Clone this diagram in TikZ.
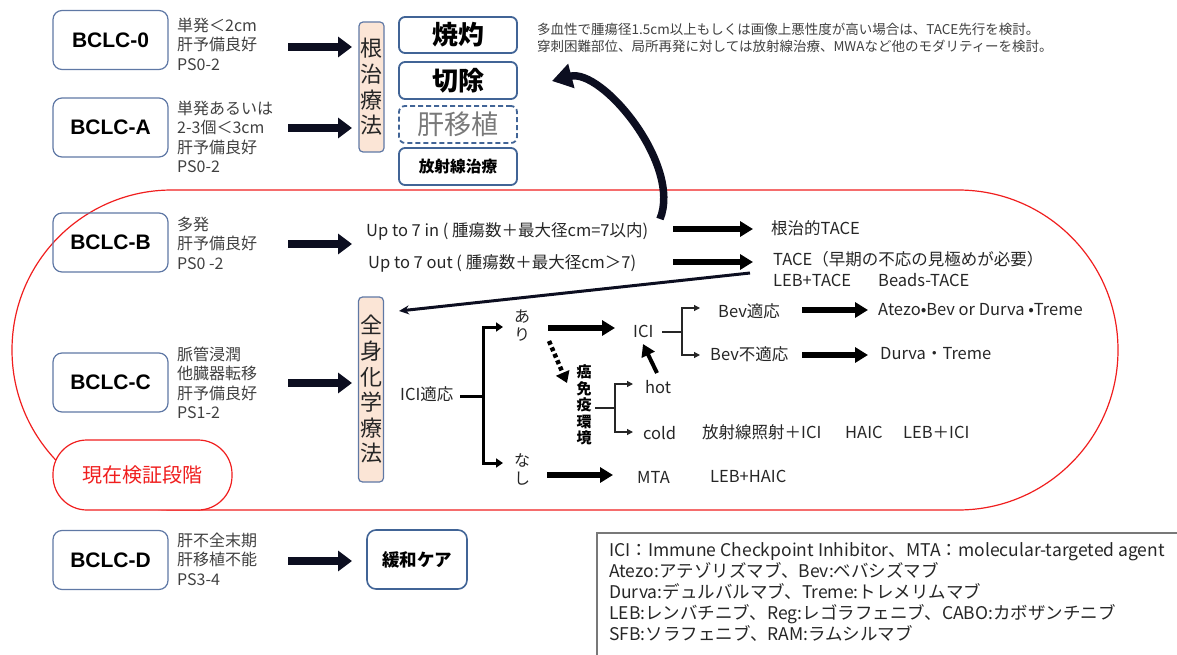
\documentclass[tikz,border=0pt]{standalone}
\usepackage{fontspec}
\setmainfont{Noto Sans CJK JP}
\newfontfamily\lsans{Liberation Sans}
\usetikzlibrary{arrows.meta,calc}
\definecolor{boxblue}{RGB}{95,120,165}
\definecolor{boxblue2}{RGB}{65,100,150}
\definecolor{peach}{RGB}{251,229,214}
\definecolor{txtgray}{RGB}{64,64,64}
\definecolor{txtdark}{RGB}{38,38,38}
\definecolor{navyblack}{RGB}{12,14,32}
\definecolor{redline}{RGB}{240,30,30}
\definecolor{legendgray}{RGB}{120,120,120}
\newcommand{\fs}[2]{\fontsize{#1}{#2}\selectfont}
\tikzset{
  bclc/.style={draw=boxblue, line width=1.2pt, rounded corners=9pt, minimum width=115pt, minimum height=59pt, inner sep=0pt, font=\lsans\bfseries\fs{21}{21}, text=black},
  desc/.style={anchor=west, align=left, inner sep=0pt, text=txtgray, font=\fs{16}{19.5}},
  treat/.style={draw=boxblue2, line width=1.8pt, rounded corners=6pt, minimum width=118pt, inner sep=0pt, text=black},
  vbox/.style={draw=boxblue, line width=1.2pt, rounded corners=4pt, fill=peach, minimum width=25pt, inner sep=0pt, align=center, text=txtdark, font=\fs{22}{25.6}},
  lbl/.style={anchor=west, inner sep=0pt, text=txtdark, font=\fs{16.5}{18}},
  bigarr/.style={draw=navyblack, line width=8.5pt, -{Triangle[length=14pt,width=20pt]}},
  medarr/.style={draw=black, line width=6pt, -{Triangle[length=13pt,width=15pt]}},
  brk/.style={draw=black, line width=3pt},
  brkarr/.style={draw=black, line width=3pt, -{Triangle[length=7pt,width=9pt]}},
  thinl/.style={draw=txtdark, line width=1.2pt},
  thinarr/.style={draw=txtdark, line width=1.2pt, -{Triangle[length=6pt,width=6pt]}},
}
\begin{document}
\begin{tikzpicture}[x=1pt,y=-1pt]
\useasboundingbox (0,0) rectangle (1177,655);
% red outline of current-study region
\draw[redline, line width=1.2pt, rounded corners=159.9pt] (12,190) rectangle (1118,510);
\node[draw=redline, line width=1.2pt, fill=white, rounded corners=34pt, minimum width=179pt, minimum height=70pt, inner sep=0pt, text=redline, font=\fs{20}{20}] (kensho) at (142.5,475) {現在検証段階};

% BCLC stages
\node[bclc] (b0) at (110.5,40) {BCLC-0};
\node[bclc] (bA) at (110.5,127.5) {BCLC-A};
\node[bclc] (bB) at (110.5,242.5) {BCLC-B};
\node[bclc] (bC) at (110.5,382.5) {BCLC-C};
\node[bclc] (bD) at (110.5,560) {BCLC-D};

\node[desc] (d0) at (177,44) {単発＜2cm\\肝予備良好\\PS0-2};
\node[desc] (dA) at (177,137) {単発あるいは\\2-3個＜3cm\\肝予備良好\\PS0-2};
\node[desc] (dB) at (177,243) {多発\\肝予備良好\\PS0 -2};
\node[desc] (dC) at (177,383) {脈管浸潤\\他臓器転移\\肝予備良好\\PS1-2};
\node[desc] (dD) at (177,559) {肝不全末期\\肝移植不能\\PS3-4};

% stage arrows
\coordinate (a0s) at (288,47);  \coordinate (a0e) at (352,47);
\coordinate (aAs) at (288,128); \coordinate (aAe) at (352,128);
\coordinate (aBs) at (288,244); \coordinate (aBe) at (352,244);
\coordinate (aCs) at (288,383); \coordinate (aCe) at (352,383);
\coordinate (aDs) at (288,561); \coordinate (aDe) at (352,561);
\foreach \s in {0,A,B,C,D}{\draw[bigarr] (a\s s) -- (a\s e);}

% curative therapy
\node[vbox, minimum height=130pt] (kon) at (371.5,87) {根\\治\\療\\法};
\node[treat, minimum height=36pt, font=\bfseries\fs{26}{26}] (shok) at (458,35) {焼灼};
\node[treat, minimum height=37pt, font=\bfseries\fs{26}{26}] (setu) at (458,80.5) {切除};
\node[treat, dashed, dash pattern=on 5pt off 3pt, minimum height=37pt, text=gray!95!black, font=\fs{27}{27}] (ishoku) at (458,124.5) {肝移植};
\node[treat, minimum height=37pt, font=\bfseries\fs{15.7}{16}] (hosha) at (458,166.5) {放射線治療};

\node[anchor=west, align=left, inner sep=0pt, text=txtgray, font=\fs{13.5}{16.5}] (note) at (537,38) {多血性で腫瘍径1.5cm以上もしくは画像上悪性度が高い場合は、TACE先行を検討。\\穿刺困難部位、局所再発に対しては放射線治療、MWAなど他のモダリティーを検討。};

% BCLC-B
\node[lbl] (up7in) at (366,231) {Up to 7 in ( 腫瘍数＋最大径cm=7以内)};
\node[lbl] (up7out) at (368,263) {Up to 7 out ( 腫瘍数＋最大径cm＞7)};
\coordinate (u1s) at (673,229); \coordinate (u1e) at (753,229);
\coordinate (u2s) at (673,262); \coordinate (u2e) at (753,262);
\draw[medarr] (u1s) -- (u1e);
\draw[medarr] (u2s) -- (u2e);
\node[lbl] (ctace) at (771,228) {根治的TACE};
\node[lbl] (tace) at (773,259) {TACE（早期の不応の見極めが必要）};
\node[lbl] (lebtace) at (773,280) {LEB+TACE};
\node[lbl] (beads) at (878,280) {Beads-TACE};

% curved arrow back to ablation
\coordinate (cvs) at (660,219);
\coordinate (cve) at (552,81);
\draw[navyblack, line width=7.5pt, -{Triangle[length=20pt,width=24pt]}] (cvs) .. controls (682,165) and (602,68) .. (cve);

% systemic therapy
\node[vbox, minimum height=185pt] (zen) at (371,389.5) {全\\身\\化\\学\\療\\法};

% long arrow to systemic therapy
\coordinate (ls) at (750,273);
\coordinate (le) at (399,311);
\draw[navyblack, line width=3pt, -{Stealth[length=10pt,width=9pt]}] (ls) -- (le);

\node[lbl] (iciok) at (400,394) {ICI適応};
\node[align=center, inner sep=0pt, text=txtdark, font=\fs{16}{18}] (ari) at (522,326) {あ\\り};
\node[align=center, inner sep=0pt, text=txtdark, font=\fs{16}{18}] (nashi) at (522,469) {な\\し};
\coordinate (j0) at (460,396);
\coordinate (j1) at (483,396);
\coordinate (j1t) at (503,327);
\coordinate (j1b) at (503,463);
\draw[brk] (j0) -- (j1);
\draw[brkarr] (j1) |- (j1t);
\draw[brkarr] (j1) |- (j1b);

\node[lbl] (ici) at (633,331) {ICI};
\coordinate (ar1s) at (548,328); \coordinate (ar1e) at (615,328);
\draw[medarr] (ar1s) -- (ar1e);
\coordinate (dts) at (549,341); \coordinate (dte) at (567,383);
\draw[black, line width=4.5pt, dash pattern=on 4pt off 3pt, -{Triangle[length=11pt,width=14pt]}] (dts) -- (dte);
\node[align=center, inner sep=0pt, text=black, font=\bfseries\fs{15}{16.5}] (gan) at (584,405) {癌\\免\\疫\\環\\境};
\coordinate (j2s) at (595,408);
\coordinate (j2) at (615,408);
\coordinate (j2t) at (633,384);
\coordinate (j2b) at (633,432);
\draw[thinl] (j2s) -- (j2);
\draw[thinarr] (j2) |- (j2t);
\draw[thinarr] (j2) |- (j2b);
\node[lbl] (hot) at (645,387) {hot};
\node[lbl] (cold) at (643,433) {cold};
\coordinate (hs) at (657,373); \coordinate (he) at (643,344);
\draw[black, line width=4pt, -{Triangle[length=12pt,width=14pt]}] (hs) -- (he);
\node[lbl] (rad) at (702,432) {放射線照射＋ICI};
\node[lbl] (haic) at (845,432) {HAIC};
\node[lbl] (lebici) at (903,432) {LEB＋ICI};

\coordinate (j3s) at (662,332);
\coordinate (j3) at (682,332);
\coordinate (j3t) at (700,308);
\coordinate (j3b) at (700,355);
\draw[thinl] (j3s) -- (j3);
\draw[thinarr] (j3) |- (j3t);
\draw[thinarr] (j3) |- (j3b);
\node[lbl] (bevok) at (718,311) {Bev適応};
\node[lbl] (bevng) at (710,354) {Bev不適応};
\coordinate (b1s) at (802,310); \coordinate (b1e) at (868,310);
\coordinate (b2s) at (802,355); \coordinate (b2e) at (868,355);
\draw[medarr] (b1s) -- (b1e);
\draw[medarr] (b2s) -- (b2e);
\node[lbl] (atezo) at (878,310) {Atezo•Bev or Durva •Treme};
\node[lbl] (durva) at (880,354) {Durva・Treme};

\coordinate (ns) at (547,475); \coordinate (ne) at (613,475);
\draw[medarr] (ns) -- (ne);
\node[lbl] (mta) at (637,477) {MTA};
\node[lbl] (lebhaic) at (710,476) {LEB+HAIC};

% BCLC-D
\node[draw=boxblue2, line width=1.6pt, rounded corners=9pt, minimum width=100pt, minimum height=59pt, inner sep=0pt, font=\bfseries\fs{17.5}{18}] (kanwa) at (417,559.5) {緩和ケア};

% legend
\draw[legendgray, line width=1.2pt] (1180,533) -- (597,533) -- (597,660);
\node[anchor=west, align=left, inner sep=0pt, text=txtdark, font=\fs{17.5}{21}] (legend) at (609,592) {ICI：Immune Checkpoint Inhibitor、MTA：molecular-targeted agent\\Atezo:アテゾリズマブ、Bev:ベバシズマブ\\Durva:デュルバルマブ、Treme:トレメリムマブ\\LEB:レンバチニブ、Reg:レゴラフェニブ、CABO:カボザンチニブ\\SFB:ソラフェニブ、RAM:ラムシルマブ};
\end{tikzpicture}
\end{document}
